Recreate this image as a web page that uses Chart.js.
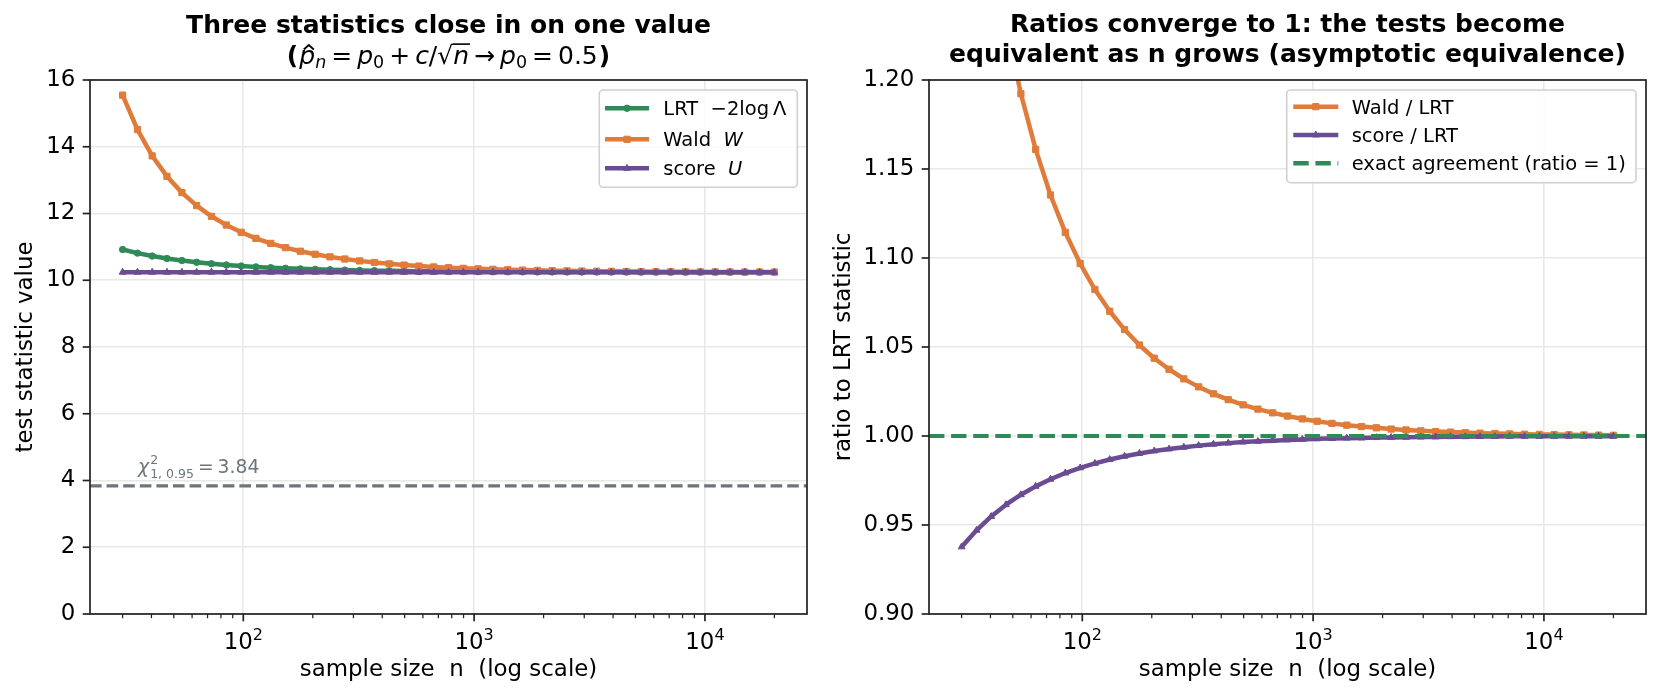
<!DOCTYPE html>
<html><head><meta charset="utf-8">
<script src="https://cdn.jsdelivr.net/npm/chart.js@4.4.1/dist/chart.umd.min.js"></script>
<style>
html,body{margin:0;padding:0;background:#fff;}
#wrap{position:relative;width:1660px;height:700px;background:#fff;}
canvas{position:absolute;top:0;}
#c1{left:0}
#c2{left:830px}
</style></head><body>
<div id="wrap"><canvas id="c1" width="830" height="700"></canvas><canvas id="c2" width="830" height="700"></canvas></div>
<script>
// ---------------- data ----------------
const sampleSizes = [30, 34.8, 40.3, 46.7, 54.2, 62.8, 72.8, 84.4, 97.9, 113.4, 131.5, 152.4, 176.7, 204.9, 237.5, 275.3, 319.2, 370.0, 428.9, 497.2, 576.4, 668.2, 774.6, 898.0, 1041, 1207, 1399, 1622, 1880, 2179, 2526, 2929, 3395, 3936, 4563, 5289, 6132, 7108, 8240, 9553, 11074, 12838, 14882, 17252, 20000];
const lrtValues = [10.921, 10.813, 10.725, 10.651, 10.590, 10.538, 10.495, 10.458, 10.427, 10.400, 10.377, 10.358, 10.341, 10.327, 10.315, 10.304, 10.295, 10.288, 10.281, 10.275, 10.271, 10.266, 10.263, 10.260, 10.257, 10.255, 10.253, 10.251, 10.249, 10.248, 10.247, 10.246, 10.245, 10.244, 10.244, 10.243, 10.243, 10.242, 10.242, 10.242, 10.242, 10.241, 10.241, 10.241, 10.241];
const waldValues = [15.547, 14.513, 13.726, 13.113, 12.626, 12.235, 11.916, 11.654, 11.437, 11.256, 11.105, 10.977, 10.870, 10.779, 10.701, 10.636, 10.580, 10.532, 10.491, 10.455, 10.425, 10.399, 10.377, 10.358, 10.342, 10.328, 10.316, 10.305, 10.296, 10.288, 10.282, 10.276, 10.271, 10.267, 10.263, 10.260, 10.257, 10.255, 10.253, 10.251, 10.250, 10.248, 10.247, 10.246, 10.245];
const scoreValues = [10.24, 10.24, 10.24, 10.24, 10.24, 10.24, 10.24, 10.24, 10.24, 10.24, 10.24, 10.24, 10.24, 10.24, 10.24, 10.24, 10.24, 10.24, 10.24, 10.24, 10.24, 10.24, 10.24, 10.24, 10.24, 10.24, 10.24, 10.24, 10.24, 10.24, 10.24, 10.24, 10.24, 10.24, 10.24, 10.24, 10.24, 10.24, 10.24, 10.24, 10.24, 10.24, 10.24, 10.24, 10.24];
const waldOverLrt = [1.4236, 1.3422, 1.2799, 1.2311, 1.1923, 1.1610, 1.1354, 1.1144, 1.0969, 1.0823, 1.0701, 1.0598, 1.0511, 1.0437, 1.0375, 1.0321, 1.0276, 1.0237, 1.0204, 1.0175, 1.0151, 1.0130, 1.0112, 1.0096, 1.0083, 1.0071, 1.0061, 1.0053, 1.0046, 1.0039, 1.0034, 1.0029, 1.0025, 1.0022, 1.0019, 1.0016, 1.0014, 1.0012, 1.0010, 1.0009, 1.0008, 1.0007, 1.0006, 1.0005, 1.0004];
const scoreOverLrt = [0.9377, 0.9470, 0.9548, 0.9614, 0.9670, 0.9717, 0.9757, 0.9792, 0.9821, 0.9846, 0.9868, 0.9886, 0.9902, 0.9916, 0.9927, 0.9937, 0.9946, 0.9954, 0.9960, 0.9966, 0.9970, 0.9974, 0.9978, 0.9981, 0.9984, 0.9986, 0.9988, 0.9989, 0.9991, 0.9992, 0.9993, 0.9994, 0.9995, 0.9996, 0.9996, 0.9997, 0.9997, 0.9998, 0.9998, 0.9998, 0.9998, 0.9999, 0.9999, 0.9999, 0.9999];
const chiCritical = 3.84;
const chiLabelAnchorN = 35;
const ratioReference = 1;

// tick labels
const xMajorTicks = [100, 1000, 10000];
const xMajorTickLabels = [['10', '2'], ['10', '3'], ['10', '4']];
const xMinorTicks = [30, 40, 50, 60, 70, 80, 90, 200, 300, 400, 500, 600, 700, 800, 900, 2000, 3000, 4000, 5000, 6000, 7000, 8000, 9000, 20000];
const leftYTicks = [0, 2, 4, 6, 8, 10, 12, 14, 16];
const rightYTicks = [0.90, 0.95, 1.00, 1.05, 1.10, 1.15, 1.20];

// ---------------- styles ----------------
const FF = '"DejaVu Sans", sans-serif';
const GREEN = '#2e8b57', ORANGE = '#e07b39', PURPLE = '#6a4c93', GRAY = '#6c757d';
const GRID = '#e8e8e8';
const LINE_W = 4.5;
const TICK_FS = 22.9, LABEL_FS = 22.9, TITLE_FS = 25, LEG_FS = 19.5;
const X_MIN = 21.67, X_MAX = 27684;
const PLOT_TOP = 80, PLOT_BOTTOM = 614;
function fnt(size, style) { return (style ? style + ' ' : '') + size + 'px ' + FF; }
Chart.defaults.font.family = FF;

function drawRuns(ctx, runs, x, y, align) {
  let w = 0;
  for (const r of runs) { ctx.font = r.font; r._w = ctx.measureText(r.t).width; w += (r.pl || 0) + r._w + (r.pr || 0); }
  let cx = align === 'center' ? x - w / 2 : (align === 'right' ? x - w : x);
  ctx.textAlign = 'left'; ctx.textBaseline = 'alphabetic';
  for (const r of runs) {
    cx += r.pl || 0;
    ctx.font = r.font;
    ctx.fillText(r.t, cx, y + (r.dy || 0));
    if (r.deco) r.deco(ctx, cx, y + (r.dy || 0), r._w);
    cx += r._w + (r.pr || 0);
  }
  return w;
}

function marker(ctx, style, r, x, y, color) {
  ctx.save();
  ctx.fillStyle = color; ctx.strokeStyle = color; ctx.lineWidth = 1; ctx.setLineDash([]);
  ctx.beginPath();
  if (style === 'circle') { ctx.arc(x, y, r, 0, Math.PI * 2); }
  else if (style === 'rect') { const s = r * Math.SQRT1_2; ctx.rect(x - s, y - s, 2 * s, 2 * s); }
  else if (style === 'triangle') {
    let a = 0;
    ctx.moveTo(x + Math.sin(a) * r, y - Math.cos(a) * r);
    a += 2 * Math.PI / 3; ctx.lineTo(x + Math.sin(a) * r, y - Math.cos(a) * r);
    a += 2 * Math.PI / 3; ctx.lineTo(x + Math.sin(a) * r, y - Math.cos(a) * r);
    ctx.closePath();
  }
  ctx.fill(); ctx.stroke();
  ctx.restore();
}

function drawFrame(chart, yTicks) {
  const { ctx, chartArea: a } = chart;
  const xs = chart.scales.x, ys = chart.scales.y;
  ctx.save();
  ctx.strokeStyle = '#222';
  ctx.setLineDash([]);
  ctx.lineWidth = 1.7;
  for (const v of xMajorTicks) { const px = xs.getPixelForValue(v); ctx.beginPath(); ctx.moveTo(px, a.bottom); ctx.lineTo(px, a.bottom + 7.3); ctx.stroke(); }
  ctx.lineWidth = 1.25;
  for (const v of xMinorTicks) { const px = xs.getPixelForValue(v); ctx.beginPath(); ctx.moveTo(px, a.bottom); ctx.lineTo(px, a.bottom + 4.2); ctx.stroke(); }
  ctx.lineWidth = 1.7;
  for (const v of yTicks) { const py = ys.getPixelForValue(v); ctx.beginPath(); ctx.moveTo(a.left - 7.3, py); ctx.lineTo(a.left, py); ctx.stroke(); }
  ctx.strokeRect(a.left, a.top, a.right - a.left, a.bottom - a.top);
  ctx.fillStyle = '#000';
  xMajorTicks.forEach((v, i) => {
    const px = xs.getPixelForValue(v);
    const lab = xMajorTickLabels[i];
    drawRuns(ctx, [{ t: lab[0], font: fnt(TICK_FS) }, { t: lab[1], font: fnt(16), dy: -9.5 }], px, 649, 'center');
  });
  ctx.restore();
}

function drawLegend(ctx, L) {
  ctx.save();
  const r = 4;
  ctx.beginPath();
  ctx.moveTo(L.x0 + r, L.y0); ctx.lineTo(L.x1 - r, L.y0); ctx.arcTo(L.x1, L.y0, L.x1, L.y0 + r, r);
  ctx.lineTo(L.x1, L.y1 - r); ctx.arcTo(L.x1, L.y1, L.x1 - r, L.y1, r);
  ctx.lineTo(L.x0 + r, L.y1); ctx.arcTo(L.x0, L.y1, L.x0, L.y1 - r, r);
  ctx.lineTo(L.x0, L.y0 + r); ctx.arcTo(L.x0, L.y0, L.x0 + r, L.y0, r);
  ctx.closePath();
  ctx.fillStyle = 'rgba(255,255,255,0.8)'; ctx.fill();
  ctx.strokeStyle = '#d0d0d0'; ctx.lineWidth = 1.6; ctx.stroke();
  for (const row of L.rows) {
    ctx.strokeStyle = row.color; ctx.lineWidth = LINE_W; ctx.lineCap = 'butt';
    ctx.setLineDash(row.dash || []);
    ctx.beginPath(); ctx.moveTo(L.hx0, row.y); ctx.lineTo(L.hx1, row.y); ctx.stroke();
    ctx.setLineDash([]);
    if (row.marker) marker(ctx, row.marker, row.r, (L.hx0 + L.hx1) / 2, row.y, row.color);
    ctx.fillStyle = '#000';
    drawRuns(ctx, row.runs, L.tx, row.y + 7, 'left');
  }
  ctx.restore();
}

function drawRotated(ctx, text, x, y, font) {
  ctx.save();
  ctx.translate(x, y); ctx.rotate(-Math.PI / 2);
  ctx.font = font; ctx.fillStyle = '#000'; ctx.textAlign = 'center'; ctx.textBaseline = 'middle';
  ctx.fillText(text, 0, 0);
  ctx.restore();
}

function lineDataset(label, ys, color, style, radius, order) {
  return {
    label, data: sampleSizes.map((n, i) => ({ x: n, y: ys[i] })),
    borderColor: color, backgroundColor: color, borderWidth: LINE_W,
    pointStyle: style, pointRadius: radius, pointHoverRadius: radius,
    pointBorderWidth: 1, pointBorderColor: color, pointBackgroundColor: color,
    tension: 0, fill: false, order, clip: 0, borderJoinStyle: 'round'
  };
}

function axes(yMin, yMax, yStep, fmt, yWidth) {
  return {
    x: {
      type: 'logarithmic', min: X_MIN, max: X_MAX,
      afterBuildTicks: s => { s.ticks = xMajorTicks.concat(xMinorTicks).sort((a, b) => a - b).map(v => ({ value: v, major: xMajorTicks.includes(v) })); },
      afterFit: s => { s.height = 700 - PLOT_BOTTOM; },
      ticks: { display: false, autoSkip: false },
      grid: { drawTicks: false, lineWidth: 1.6, color: c => (c.tick && xMajorTicks.includes(c.tick.value)) ? GRID : 'rgba(0,0,0,0)' },
      border: { display: false }
    },
    y: {
      type: 'linear', min: yMin, max: yMax,
      afterFit: s => { s.width = yWidth; },
      ticks: { stepSize: yStep, callback: fmt, color: '#000', padding: 14.6, font: { family: FF, size: TICK_FS } },
      grid: { drawTicks: false, lineWidth: 1.6, color: GRID },
      border: { display: false }
    }
  };
}

const baseOpts = { responsive: false, animation: false, events: [], plugins: { legend: { display: false }, tooltip: { enabled: false }, title: { display: false } } };

// ---------------- left chart ----------------
const hatDeco = (ctx, x0, yb, w) => {
  const c = x0 + w * 0.6;
  ctx.save(); ctx.strokeStyle = ctx.fillStyle; ctx.lineWidth = 1.8;
  ctx.beginPath(); ctx.moveTo(c - 5, yb - 14); ctx.lineTo(c, yb - 18.5); ctx.lineTo(c + 5, yb - 14); ctx.stroke(); ctx.restore();
};
const overDeco = (ctx, x0, yb, w) => { ctx.fillRect(x0 - 0.5, yb - 20.2, w + 1.5, 1.6); };

new Chart(document.getElementById('c1'), {
  type: 'line',
  data: { datasets: [
    lineDataset('score  U', scoreValues, PURPLE, 'triangle', 3.9, 1),
    lineDataset('Wald  W', waldValues, ORANGE, 'rect', 4.4, 2),
    lineDataset('LRT  −2logΛ', lrtValues, GREEN, 'circle', 3.2, 3)
  ] },
  options: Object.assign({}, baseOpts, {
    layout: { padding: { top: PLOT_TOP, right: 23, bottom: 0, left: 0 } },
    scales: axes(0, 16, 2, v => String(v), 90)
  }),
  plugins: [{
    id: 'leftDeco',
    afterDatasetsDraw(chart) {
      const { ctx, chartArea: a } = chart;
      const py = chart.scales.y.getPixelForValue(chiCritical);
      ctx.save();
      ctx.strokeStyle = GRAY; ctx.lineWidth = 3.1; ctx.setLineDash([11.6, 5]); ctx.lineCap = 'butt';
      ctx.beginPath(); ctx.moveTo(a.left, py); ctx.lineTo(a.right, py); ctx.stroke();
      ctx.restore();
    },
    afterDraw(chart) {
      const { ctx, chartArea: a } = chart;
      drawFrame(chart, leftYTicks);
      ctx.save();
      ctx.fillStyle = GRAY;
      const ax = chart.scales.x.getPixelForValue(chiLabelAnchorN);
      const ay = chart.scales.y.getPixelForValue(chiCritical) - 13;
      drawRuns(ctx, [
        { t: 'χ', font: fnt(18.75, 'italic'), pr: 1 },
        { t: '1, 0.95', font: fnt(12.5), dy: 5, deco: (c, x0, yb) => { c.font = fnt(12.5); c.fillText('2', x0, yb - 14); } },
        { t: '=', font: fnt(18.75), pl: 4, pr: 4 },
        { t: '3.84', font: fnt(18.75) }
      ], ax, ay, 'left');
      ctx.fillStyle = '#000';
      const cx = (a.left + a.right) / 2;
      ctx.font = fnt(TITLE_FS, 'bold'); ctx.textAlign = 'center'; ctx.textBaseline = 'alphabetic';
      ctx.fillText('Three statistics close in on one value', cx, 32.5);
      const R = fnt(25), I = fnt(25, 'italic'), B = fnt(25, 'bold'), S = fnt(17.5), SI = fnt(17.5, 'italic');
      drawRuns(ctx, [
        { t: '(', font: B, pr: 1 }, { t: 'p', font: I, deco: hatDeco }, { t: 'n', font: SI, dy: 4.5 },
        { t: '=', font: R, pl: 5, pr: 5 }, { t: 'p', font: I }, { t: '0', font: S, dy: 4.5 },
        { t: '+', font: R, pl: 5, pr: 5 }, { t: 'c', font: I }, { t: '/', font: R }, { t: '√', font: R },
        { t: 'n', font: I, deco: overDeco },
        { t: '→', font: R, pl: 5, pr: 5 }, { t: 'p', font: I }, { t: '0', font: S, dy: 4.5 },
        { t: '=', font: R, pl: 5, pr: 5 }, { t: '0.5', font: R }, { t: ')', font: B, pl: 1 }
      ], cx, 63.5, 'center');
      ctx.font = fnt(LABEL_FS); ctx.textAlign = 'center'; ctx.textBaseline = 'alphabetic';
      ctx.fillText('sample size  n  (log scale)', cx, 676);
      ctx.restore();
      drawRotated(ctx, 'test statistic value', 26.5, (a.top + a.bottom) / 2, fnt(LABEL_FS));
      const L = fnt(LEG_FS), LI = fnt(LEG_FS, 'italic');
      drawLegend(ctx, {
        x0: 599.3, y0: 90, x1: 797.3, y1: 187.3, hx0: 605, hx1: 649, tx: 663.3,
        rows: [
          { y: 108.3, color: GREEN, marker: 'circle', r: 3.2, runs: [{ t: 'LRT  −2log\u2009Λ', font: L }] },
          { y: 139.3, color: ORANGE, marker: 'rect', r: 4.4, runs: [{ t: 'Wald  ', font: L }, { t: 'W', font: LI }] },
          { y: 168.3, color: PURPLE, marker: 'triangle', r: 3.9, runs: [{ t: 'score  ', font: L }, { t: 'U', font: LI }] }
        ]
      });
    }
  }]
});

// ---------------- right chart ----------------
new Chart(document.getElementById('c2'), {
  type: 'line',
  data: { datasets: [
    lineDataset('score / LRT', scoreOverLrt, PURPLE, 'triangle', 3.9, 1),
    lineDataset('Wald / LRT', waldOverLrt, ORANGE, 'rect', 4.4, 2)
  ] },
  options: Object.assign({}, baseOpts, {
    layout: { padding: { top: PLOT_TOP, right: 14, bottom: 0, left: 0 } },
    scales: axes(0.9, 1.2, 0.05, v => Number(v).toFixed(2), 99)
  }),
  plugins: [{
    id: 'rightDeco',
    afterDatasetsDraw(chart) {
      const { ctx, chartArea: a } = chart;
      const py = chart.scales.y.getPixelForValue(ratioReference);
      ctx.save();
      ctx.strokeStyle = GREEN; ctx.lineWidth = 4.2; ctx.setLineDash([15.4, 6.7]); ctx.lineCap = 'butt';
      ctx.beginPath(); ctx.moveTo(a.left, py); ctx.lineTo(a.right, py); ctx.stroke();
      ctx.restore();
    },
    afterDraw(chart) {
      const { ctx, chartArea: a } = chart;
      drawFrame(chart, rightYTicks);
      ctx.save();
      ctx.fillStyle = '#000';
      const cx = (a.left + a.right) / 2;
      ctx.font = fnt(TITLE_FS, 'bold'); ctx.textAlign = 'center'; ctx.textBaseline = 'alphabetic';
      ctx.fillText('Ratios converge to 1: the tests become', cx, 32);
      ctx.fillText('equivalent as n grows (asymptotic equivalence)', cx, 62);
      ctx.font = fnt(LABEL_FS);
      ctx.fillText('sample size  n  (log scale)', cx, 676);
      ctx.restore();
      drawRotated(ctx, 'ratio to LRT statistic', 14, (a.top + a.bottom) / 2, fnt(LABEL_FS));
      const L = fnt(LEG_FS);
      drawLegend(ctx, {
        x0: 456.7, y0: 90, x1: 806, y1: 182.7, hx0: 463.3, hx1: 508.3, tx: 521.7,
        rows: [
          { y: 106.7, color: ORANGE, marker: 'rect', r: 4.4, runs: [{ t: 'Wald / LRT', font: L }] },
          { y: 135, color: PURPLE, marker: 'triangle', r: 3.9, runs: [{ t: 'score / LRT', font: L }] },
          { y: 163.3, color: GREEN, dash: [15.4, 6.7], runs: [{ t: 'exact agreement (ratio = 1)', font: L }] }
        ]
      });
    }
  }]
});
</script>
</body></html>
